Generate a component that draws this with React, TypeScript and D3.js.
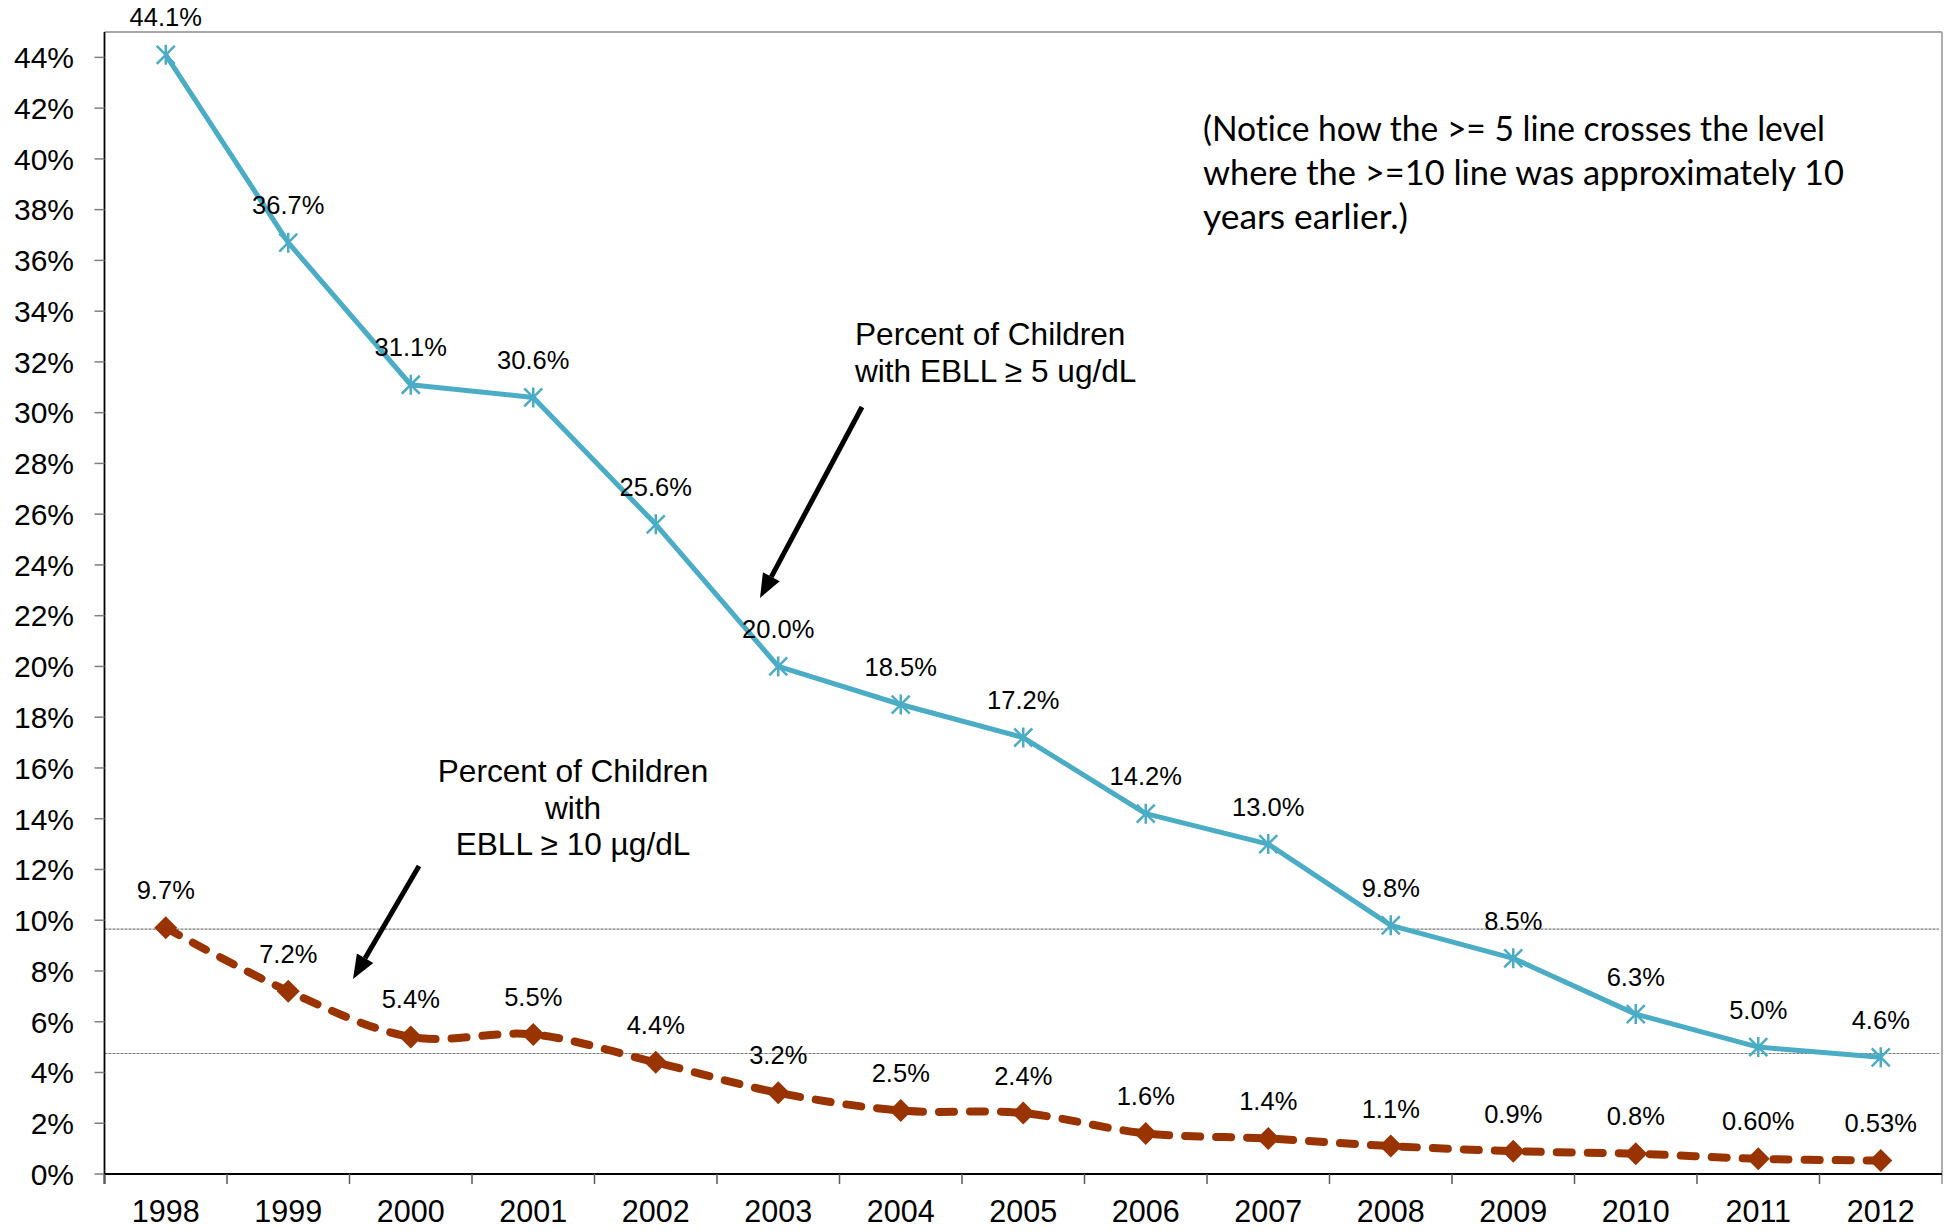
import * as React from 'react';
import * as d3 from 'd3';

// data
const years = ['1998', '1999', '2000', '2001', '2002', '2003', '2004', '2005', '2006', '2007', '2008', '2009', '2010', '2011', '2012'];
const pctAtLeast5 = [44.1, 36.7, 31.1, 30.6, 25.6, 20.0, 18.5, 17.2, 14.2, 13.0, 9.8, 8.5, 6.3, 5.0, 4.6];
const labelsAtLeast5 = ['44.1%', '36.7%', '31.1%', '30.6%', '25.6%', '20.0%', '18.5%', '17.2%', '14.2%', '13.0%', '9.8%', '8.5%', '6.3%', '5.0%', '4.6%'];
const pctAtLeast10 = [9.7, 7.2, 5.4, 5.5, 4.4, 3.2, 2.5, 2.4, 1.6, 1.4, 1.1, 0.9, 0.8, 0.60, 0.53];
const labelsAtLeast10 = ['9.7%', '7.2%', '5.4%', '5.5%', '4.4%', '3.2%', '2.5%', '2.4%', '1.6%', '1.4%', '1.1%', '0.9%', '0.8%', '0.60%', '0.53%'];
const yTickValues = d3.range(0, 45, 2);
const referenceLevels = [9.65, 4.75];
const noteLines = [
  '(Notice how the >= 5 line crosses the level',
  'where the >=10 line was approximately 10',
  'years earlier.)',
];
const noteWidths = [622, 641, 205];
const label5Lines = ['Percent of Children', 'with EBLL \u2265 5 ug/dL'];
const label10Lines = ['Percent of Children', 'with', 'EBLL \u2265 10 \u00b5g/dL'];

const W = 1951;
const H = 1231;
const margin = { top: 32, right: 9, bottom: 57, left: 104.5 };

const BLUE = '#4BACC6';
const RUST = '#993300';
const ARIAL = '"Liberation Sans", Arial, sans-serif';

const arrowPath = (x1: number, y1: number, x2: number, y2: number) => {
  const a = Math.atan2(y2 - y1, x2 - x1);
  const len = 24, half = 9.5;
  const bx = x2 - len * Math.cos(a), by = y2 - len * Math.sin(a);
  const px = -Math.sin(a) * half, py = Math.cos(a) * half;
  return {
    line: `M${x1},${y1}L${bx},${by}`,
    head: `M${x2},${y2}L${bx + px},${by + py}L${bx - px},${by - py}Z`,
  };
};

export default function App() {
  const x = d3.scaleBand<string>().domain(years).range([margin.left, W - margin.right]);
  const y = d3.scaleLinear().domain([0, 45]).range([H - margin.bottom, margin.top]);
  const cx = (yr: string) => (x(yr) as number) + x.bandwidth() / 2;

  const blueLine = d3.line<number>()
    .x((_, i) => cx(years[i]))
    .y((v) => y(v));
  const rustLine = d3.line<number>()
    .x((_, i) => cx(years[i]))
    .y((v) => y(v))
    .curve(d3.curveCatmullRom.alpha(0));

  const x0 = margin.left, x1 = W - margin.right;
  const y0 = H - margin.bottom, yTop = margin.top;

  const arrow1 = arrowPath(862, 407, 760, 598);
  const arrow2 = arrowPath(419, 866, 353, 979);

  return (
    <svg width={W} height={H} style={{ position: 'absolute', left: 0, top: 0, background: '#fff' }}>
      {/* frame */}
      <line x1={x0} x2={x1} y1={yTop} y2={yTop} stroke="#8c8c8c" strokeWidth={1.5} />
      <line x1={x1} x2={x1} y1={yTop} y2={y0 + 10} stroke="#a6a6a6" strokeWidth={1.8} />

      {/* reference levels */}
      {referenceLevels.map((v) => (
        <line key={v} x1={x0} x2={x1 - 3} y1={y(v)} y2={y(v)} stroke="#7a7a7a" strokeWidth={1.1} strokeDasharray="3 1" />
      ))}

      {/* y axis */}
      <line x1={x0} x2={x0} y1={yTop} y2={y0 + 10} stroke="#000" strokeWidth={1.8} />
      {yTickValues.map((t) => (
        <g key={t}>
          <line x1={x0 - 10} x2={x0} y1={y(t)} y2={y(t)} stroke="#7f7f7f" strokeWidth={1.5} />
          <text x={74} y={y(t)} dy="0.36em" textAnchor="end" fontFamily={ARIAL} fontSize={30}>{`${t}%`}</text>
        </g>
      ))}

      {/* x axis */}
      <line x1={x0} x2={x1} y1={y0} y2={y0} stroke="#000" strokeWidth={1.8} />
      {years.map((yr) => (
        <g key={yr}>
          <line x1={x(yr) as number} x2={x(yr) as number} y1={y0} y2={y0 + 10} stroke="#595959" strokeWidth={1.5} />
          <text x={cx(yr)} y={1222} textAnchor="middle" fontFamily={ARIAL} fontSize={30.5}>{yr}</text>
        </g>
      ))}

      {/* >= 5 series */}
      <path d={blueLine(pctAtLeast5) || ''} fill="none" stroke={BLUE} strokeWidth={5} strokeLinejoin="round" />
      {pctAtLeast5.map((v, i) => (
        <path key={i} transform={`translate(${cx(years[i])},${y(v)})`}
          d="M-9,-9L9,9M-9,9L9,-9M0,-10L0,10" stroke={BLUE} strokeWidth={2.5} fill="none" />
      ))}

      {/* >= 10 series */}
      <path d={rustLine(pctAtLeast10) || ''} fill="none" stroke={RUST} strokeWidth={8}
        strokeDasharray="15 16" strokeLinecap="round" />
      {pctAtLeast10.map((v, i) => (
        <path key={i} transform={`translate(${cx(years[i])},${y(v)})`}
          d="M0,-11.5L11.5,0L0,11.5L-11.5,0Z" fill={RUST} />
      ))}

      {/* data labels */}
      {pctAtLeast5.map((v, i) => (
        <text key={i} x={cx(years[i])} y={y(v) - 28.5} textAnchor="middle" fontFamily={ARIAL} fontSize={25.5}>{labelsAtLeast5[i]}</text>
      ))}
      {pctAtLeast10.map((v, i) => (
        <text key={i} x={cx(years[i])} y={y(v) - 28.5} textAnchor="middle" fontFamily={ARIAL} fontSize={25.5}>{labelsAtLeast10[i]}</text>
      ))}

      {/* annotations */}
      {label5Lines.map((t, i) => (
        <text key={t} x={855} y={345 + i * 37} fontFamily={ARIAL} fontSize={31.6}>{t}</text>
      ))}
      <path d={arrow1.line} stroke="#000" strokeWidth={5} fill="none" />
      <path d={arrow1.head} fill="#000" />

      {label10Lines.map((t, i) => (
        <text key={t} x={573} y={782 + i * 36.5} textAnchor="middle" fontFamily={ARIAL} fontSize={31.6}>{t}</text>
      ))}
      <path d={arrow2.line} stroke="#000" strokeWidth={5} fill="none" />
      <path d={arrow2.head} fill="#000" />

      {noteLines.map((t, i) => (
        <text key={t} x={1203} y={140.5 + i * 44} fontFamily="Lato, 'Open Sans', sans-serif" fontSize={34}
          textLength={noteWidths[i]} lengthAdjust="spacingAndGlyphs"
          style={{ fontVariantLigatures: 'none', fontFeatureSettings: '"liga" 0' }}>{t}</text>
      ))}
    </svg>
  );
}
